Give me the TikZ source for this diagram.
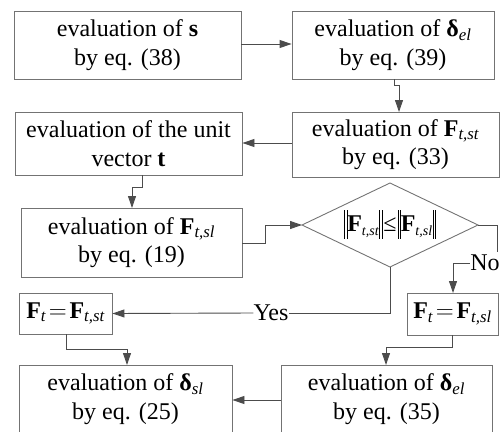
\documentclass[tikz,border=0pt]{standalone}
\usepackage{amsmath}
\usepackage{fontspec}
\setmainfont{Liberation Serif}
\usetikzlibrary{arrows.meta,shapes.geometric}
\newcommand{\bF}{\textbf{F}}
\newcommand{\bd}{\textbf{δ}}
\newcommand{\subi}[1]{\textsubscript{\itshape #1}}
\newcommand{\nbar}{\rule[-7pt]{0.7pt}{29pt}\hspace{1.8pt}\rule[-7pt]{0.7pt}{29pt}}
\newcommand{\dsub}[1]{\raisebox{-4pt}{\fontsize{14}{14}\selectfont\itshape #1}}
\begin{document}
\begin{tikzpicture}[x=1pt,y=-1pt,
  box/.style={draw=black!55,line width=0.9pt,rectangle,inner sep=0pt,align=center,
    font=\fontsize{24}{28.5}\selectfont},
  lbl/.style={inner sep=0pt,font=\fontsize{24}{28}\selectfont},
  conn/.style={draw=black!70,line width=0.9pt},
  arr/.style={conn,-{Triangle[length=12pt,width=8pt]}}]
\useasboundingbox (0,0) rectangle (500,431);
\clip (0,0) rectangle (500,431);
\node[box,minimum width=227pt,minimum height=68pt] (A) at (127.5,45) {evaluation of \textbf{s}\\by eq. (38)};
\node[box,minimum width=202pt,minimum height=68pt] (B) at (393,45) {evaluation of \bd\subi{el}\\by eq. (39)};
\node[box,minimum width=207pt,minimum height=65pt] (C) at (395.5,144.5) {evaluation of \bF\subi{t,st}\\by eq. (33)};
\node[box,minimum width=227pt,minimum height=63pt] (D) at (128.5,143.5) {evaluation of the unit\\vector \textbf{t}};
\node[box,minimum width=221pt,minimum height=69pt] (E) at (131.5,242.5) {evaluation of \bF\subi{t,sl}\\by eq. (19)};
% decision diamond
\coordinate (Fn) at (390,183);
\coordinate (Fe) at (478,225);
\coordinate (Fs) at (390,267);
\coordinate (Fw) at (302,225);
\draw[draw=black!55,line width=0.9pt] (Fn) -- (Fe) -- (Fs) -- (Fw) -- cycle;
\node[inner sep=0pt,font=\fontsize{24}{28}\selectfont] (F) at (390,224)
  {\nbar\bF\dsub{t,st}\hspace{0.5pt}\nbar\hspace{1pt}≤\hspace{1pt}\nbar\bF\dsub{t,sl}\hspace{0.5pt}\nbar};
\node[box,minimum width=93pt,minimum height=41pt] (G) at (65.5,313.5) {$\text{\bF}_{\textit{t}}\!=\!\text{\bF}_{\textit{t,st}}$};
\node[box,minimum width=91pt,minimum height=42pt] (H) at (452.5,314) {$\text{\bF}_{\textit{t}}\!=\!\text{\bF}_{\textit{t,sl}}$};
\node[box,minimum width=213pt,minimum height=68pt] (I) at (125.5,399) {evaluation of \bd\subi{sl}\\by eq. (25)};
\node[box,minimum width=211pt,minimum height=68pt] (J) at (386.5,399) {evaluation of \bd\subi{el}\\by eq. (35)};
\node[lbl] (yes) at (271,313) {Yes};
\node[lbl] (no) at (485,263) {No};
\coordinate (b1) at (394,79);
\coordinate (b2) at (399,112);
\coordinate (d1) at (142,175);
\coordinate (d2) at (132,208);
\coordinate (e1) at (242,243);
\coordinate (f1) at (497,225);
\coordinate (f2) at (497,252);
\coordinate (h1) at (66,334);
\coordinate (h2) at (127,365);
\coordinate (k1) at (452,335);
\coordinate (k2) at (386,365);
\draw[arr] (A.east |- 0,44) -- (B.west |- 0,44);
\draw[arr] (b1) -- (394,85) -- (399,85) -- (b2);
\draw[arr] (C.west |- 0,143) -- (D.east |- 0,143);
\draw[arr] (d1) -- (142,187) -- (132,187) -- (d2);
\draw[arr] (e1) -- (265,243) -- (265,225) -- (Fw);
\draw[conn] (Fe) -- (f1) -- (f2);
\draw[arr] (no.west) -- (453,263) -- (453,293);
\draw[conn] (Fs) -- (390,313) -- (yes.east);
\draw[arr] (yes.west) -- (G.east);
\draw[arr] (h1) -- (66,349) -- (127,349) -- (h2);
\draw[arr] (k1) -- (452,347) -- (386,347) -- (k2);
\draw[arr] (J.west |- 0,400) -- (I.east |- 0,400);
\end{tikzpicture}
\end{document}
